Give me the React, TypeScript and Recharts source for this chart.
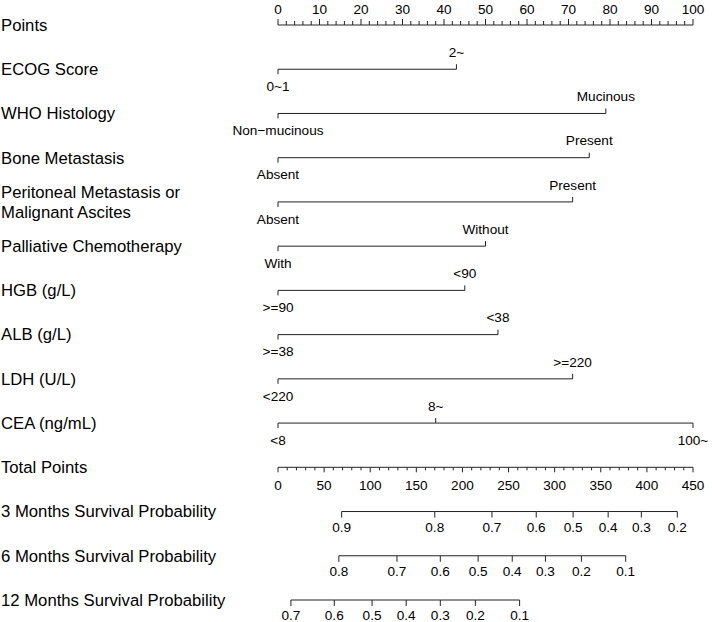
import React from 'react';
import { ComposedChart, Scatter, XAxis, YAxis } from 'recharts';

const FONT = '"Liberation Sans", Arial, Helvetica, sans-serif';
const INK = '#000';
const LINE = '#222';

const rowLabels = [
  'Points',
  'ECOG Score',
  'WHO Histology',
  'Bone Metastasis',
  'Peritoneal Metastasis or\nMalignant Ascites',
  'Palliative Chemotherapy',
  'HGB (g/L)',
  'ALB (g/L)',
  'LDH (U/L)',
  'CEA (ng/mL)',
  'Total Points',
  '3 Months Survival Probability',
  '6 Months Survival Probability',
  '12 Months Survival Probability',
];

// Points scale
const pointsMajor = [0, 10, 20, 30, 40, 50, 60, 70, 80, 90, 100];
const pointsMinorStep = 2;
// Total points scale
const totalMajor = [0, 50, 100, 150, 200, 250, 300, 350, 400, 450];
const totalMinorStep = 10;

// Predictor levels and their points
const ecogLevels = ['0~1', '2~'];
const ecogPoints = [0, 43];
const whoLevels = ['Non\u2212mucinous', 'Mucinous'];
const whoPoints = [0, 79];
const boneLevels = ['Absent', 'Present'];
const bonePoints = [0, 75];
const periLevels = ['Absent', 'Present'];
const periPoints = [0, 71];
const chemoLevels = ['With', 'Without'];
const chemoPoints = [0, 50];
const hgbLevels = ['>=90', '<90'];
const hgbPoints = [0, 45];
const albLevels = ['>=38', '<38'];
const albPoints = [0, 53];
const ldhLevels = ['<220', '>=220'];
const ldhPoints = [0, 71];
const ceaLevels = ['<8', '8~', '100~'];
const ceaPoints = [0, 38, 100];

// Survival probabilities and their total-points positions
const surv3Labels = ['0.9', '0.8', '0.7', '0.6', '0.5', '0.4', '0.3', '0.2'];
const surv3Total = [69, 170, 232, 280, 320, 358, 394, 433];
const surv6Labels = ['0.8', '0.7', '0.6', '0.5', '0.4', '0.3', '0.2', '0.1'];
const surv6Total = [66, 129, 176, 217, 254, 290, 329, 377];
const surv12Labels = ['0.7', '0.6', '0.5', '0.4', '0.3', '0.2', '0.1'];
const surv12Total = [14, 61, 102, 139, 176, 214, 262];

const variables = [
  { row: 1, levels: ecogLevels, points: ecogPoints },
  { row: 2, levels: whoLevels, points: whoPoints },
  { row: 3, levels: boneLevels, points: bonePoints },
  { row: 4, levels: periLevels, points: periPoints },
  { row: 5, levels: chemoLevels, points: chemoPoints },
  { row: 6, levels: hgbLevels, points: hgbPoints },
  { row: 7, levels: albLevels, points: albPoints },
  { row: 8, levels: ldhLevels, points: ldhPoints },
  { row: 9, levels: ceaLevels, points: ceaPoints },
];

const survRows = [
  { row: 11, labels: surv3Labels, total: surv3Total },
  { row: 12, labels: surv6Labels, total: surv6Total },
  { row: 13, labels: surv12Labels, total: surv12Total },
];

const buildAxisData = (major: number[], step: number, row: number) => {
  const out: any[] = [];
  const max = major[major.length - 1];
  for (let v = major[0]; v <= max + 1e-9; v += step) {
    const isMajor = major.indexOf(v) >= 0;
    out.push({ x: v, y: row, label: isMajor ? String(v) : '', major: isMajor });
  }
  return out;
};

const pointsData = buildAxisData(pointsMajor, pointsMinorStep, 0);
const totalData = buildAxisData(totalMajor, totalMinorStep, 10);

const variableData = variables.map((v) =>
  v.levels.map((label, i) => ({ x: v.points[i], y: v.row, label, above: i % 2 === 1 }))
);
const survData = survRows.map((s) =>
  s.labels.map((label, i) => ({ x: s.total[i], y: s.row, label }))
);

const TICK_FS = 13.6;

const PointsTick = (props: any) => {
  const { cx, cy, payload } = props;
  const len = payload.major ? 6 : 4;
  return (
    <g>
      <line x1={cx} x2={cx} y1={cy} y2={cy - len} stroke={LINE} strokeWidth={1} />
      {payload.label ? (
        <text x={cx} y={cy - 16} dy="0.35em" textAnchor="middle" fontSize={TICK_FS} fontFamily={FONT} fill={INK}>
          {payload.label}
        </text>
      ) : null}
    </g>
  );
};

const TotalTick = (props: any) => {
  const { cx, cy, payload } = props;
  const len = payload.major ? 5 : 3;
  return (
    <g>
      <line x1={cx} x2={cx} y1={cy} y2={cy + len} stroke={LINE} strokeWidth={1} />
      {payload.label ? (
        <text x={cx} y={cy + 18} dy="0.35em" textAnchor="middle" fontSize={TICK_FS} fontFamily={FONT} fill={INK}>
          {payload.label}
        </text>
      ) : null}
    </g>
  );
};

const LevelMark = (props: any) => {
  const { cx, cy, payload } = props;
  const dir = payload.above ? -1 : 1;
  return (
    <g>
      <line x1={cx} x2={cx} y1={cy} y2={cy + dir * 5} stroke={LINE} strokeWidth={1} />
      <text x={cx} y={cy + dir * 17} dy="0.35em" textAnchor="middle" fontSize={TICK_FS} fontFamily={FONT} fill={INK}>
        {payload.label}
      </text>
    </g>
  );
};

const ProbMark = (props: any) => {
  const { cx, cy, payload } = props;
  return (
    <g>
      <line x1={cx} x2={cx} y1={cy} y2={cy + 6} stroke={LINE} strokeWidth={1} />
      <text x={cx} y={cy + 15.5} dy="0.35em" textAnchor="middle" fontSize={TICK_FS} fontFamily={FONT} fill={INK}>
        {payload.label}
      </text>
    </g>
  );
};

const RowLabel = (props: any) => {
  const { y, payload } = props;
  const lines = rowLabels[payload.value].split('\n');
  const lh = 20;
  return (
    <text x={1} y={y} fontSize={16.7} fontFamily={FONT} fill={INK} textAnchor="start">
      {lines.map((l, i) => (
        <tspan key={i} x={1} y={y + (i - (lines.length - 1) / 2) * lh} dy="0.35em">
          {l}
        </tspan>
      ))}
    </text>
  );
};

const rowTicks = rowLabels.map((_, i) => i);
const lineStyle = { stroke: LINE, strokeWidth: 1 };

export default function App() {
  return (
    <div style={{ position: 'absolute', left: 0, top: 0, background: '#fff' }}>
      <ComposedChart width={712} height={622} margin={{ top: 25, right: 19, bottom: 22, left: 0 }}>
        <XAxis xAxisId="pts" type="number" dataKey="x" domain={[0, 100]} hide />
        <XAxis xAxisId="tot" type="number" dataKey="x" domain={[0, 450]} hide />
        <YAxis
          type="number"
          dataKey="y"
          domain={[0, 13]}
          reversed
          ticks={rowTicks}
          interval={0}
          width={278}
          axisLine={false}
          tickLine={false}
          tick={<RowLabel />}
        />
        <Scatter
          xAxisId="pts"
          data={pointsData}
          fill={LINE}
          line={lineStyle}
          shape={<PointsTick />}
          isAnimationActive={false}
        />
        {variableData.map((d, i) => (
          <Scatter
            key={'v' + i}
            xAxisId="pts"
            data={d}
            fill={LINE}
            line={lineStyle}
            shape={<LevelMark />}
            isAnimationActive={false}
          />
        ))}
        <Scatter
          xAxisId="tot"
          data={totalData}
          fill={LINE}
          line={lineStyle}
          shape={<TotalTick />}
          isAnimationActive={false}
        />
        {survData.map((d, i) => (
          <Scatter
            key={'s' + i}
            xAxisId="tot"
            data={d}
            fill={LINE}
            line={lineStyle}
            shape={<ProbMark />}
            isAnimationActive={false}
          />
        ))}
      </ComposedChart>
    </div>
  );
}
